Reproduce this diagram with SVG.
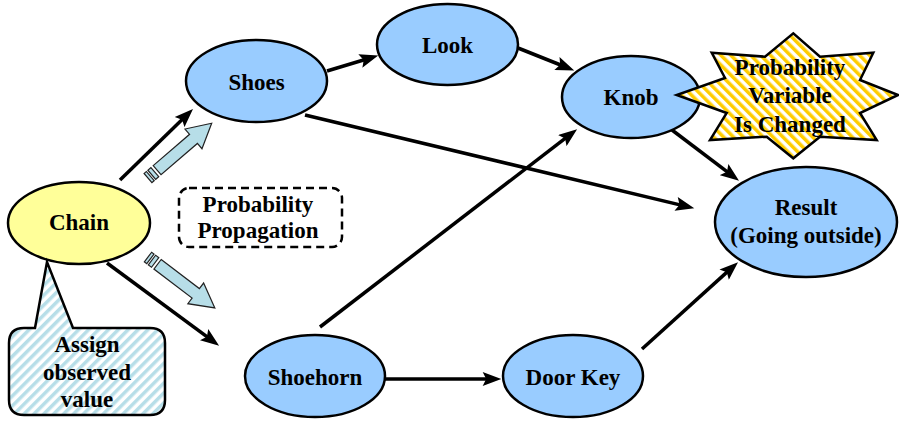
<svg xmlns="http://www.w3.org/2000/svg" width="899" height="421" viewBox="0 0 899 421">
<style>
.node{fill:#99CCFF;stroke:#000;stroke-width:2.5}
.chain{fill:#FFFF99;stroke:#000;stroke-width:2.5}
text{font-family:'Liberation Serif','DejaVu Serif',serif;font-weight:bold;font-size:23px;fill:#000;text-anchor:middle}
.conn line{stroke:#000;stroke-width:3.5;marker-end:url(#ah)}
.blk{fill:#B7DEE8;stroke:#222;stroke-width:1.2}
</style>
<defs>
<marker id="ah" markerUnits="userSpaceOnUse" markerWidth="20" markerHeight="14" viewBox="0 0 16 12" refX="8" refY="6" orient="auto">
<path d="M0,0 L16,6 L0,12 L3,6 Z" fill="#000"/>
</marker>
<pattern id="ystripe" patternUnits="userSpaceOnUse" width="7" height="7" patternTransform="rotate(-45)">
<rect width="7" height="7" fill="#fff"/>
<rect width="3.5" height="7" fill="#FFCC00"/>
</pattern>
<pattern id="cstripe" patternUnits="userSpaceOnUse" width="7" height="7" patternTransform="rotate(45)">
<rect width="7" height="7" fill="#fff"/>
<rect width="3.5" height="7" fill="#B7DEE8"/>
</pattern>
</defs>
<rect width="899" height="421" fill="#fff"/>
<g id="connectors" class="conn">
<line x1="120" y1="180" x2="186.3" y2="115.6"/>
<line x1="107" y1="263" x2="211.6" y2="340.2"/>
<line x1="327" y1="71" x2="369.3" y2="58.3"/>
<line x1="518" y1="48" x2="565.6" y2="67"/>
<line x1="305" y1="115" x2="685.2" y2="206.1"/>
<line x1="672" y1="130" x2="731.6" y2="175.2"/>
<line x1="320" y1="327" x2="569.7" y2="134.9"/>
<line x1="385" y1="379" x2="492" y2="379"/>
<line x1="642" y1="349" x2="731.1" y2="268.4"/>
</g>
<g id="prop-arrow-up" transform="translate(148,178) rotate(-40.7)">
<rect class="blk" x="0" y="-6" width="3" height="12"/>
<rect class="blk" x="5" y="-6" width="4" height="12"/>
<polygon class="blk" points="12,-6 60,-6 60,-13 84,0 60,13 60,6 12,6"/>
</g>
<g id="prop-arrow-down" transform="translate(148,257) rotate(37.3)">
<rect class="blk" x="0" y="-6" width="3" height="12"/>
<rect class="blk" x="5" y="-6" width="4" height="12"/>
<polygon class="blk" points="12,-6 60,-6 60,-13 84,0 60,13 60,6 12,6"/>
</g>
<g id="chain">
<ellipse class="chain" cx="79" cy="223" rx="71" ry="41"/>
<text x="79" y="230">Chain</text>
</g>
<g id="shoes">
<ellipse class="node" cx="256.5" cy="81" rx="70.5" ry="41"/>
<text x="256.5" y="90">Shoes</text>
</g>
<g id="look">
<ellipse class="node" cx="447.5" cy="44.5" rx="70.5" ry="40.5"/>
<text x="447.5" y="53">Look</text>
</g>
<g id="knob">
<ellipse class="node" cx="631" cy="97" rx="69" ry="41"/>
<text x="631" y="105">Knob</text>
</g>
<g id="shoehorn">
<ellipse class="node" cx="315" cy="376" rx="70" ry="41"/>
<text x="315" y="385">Shoehorn</text>
</g>
<g id="doorkey">
<ellipse class="node" cx="573" cy="376" rx="70" ry="41"/>
<text x="573" y="385">Door Key</text>
</g>
<g id="result">
<ellipse class="node" cx="806" cy="222" rx="91" ry="55"/>
<text x="806" y="215">Result</text>
<text x="806" y="243">(Going outside)</text>
</g>
<g id="star">
<polygon points="711.7,52.7 765,56.7 793.3,33.3 820,56.7 873.3,52.7 860,80 898,95 860,113 876.7,140 820,136.7 793.3,158.3 766.7,136.7 710,140 726.7,113 676.7,95 725,78" fill="url(#ystripe)" stroke="#000" stroke-width="2.5" stroke-linejoin="miter"/>
<text x="790" y="75">Probability</text>
<text x="790" y="103">Variable</text>
<text x="790" y="132">Is Changed</text>
</g>
<g id="propagation">
<rect x="179" y="188" width="163" height="59" rx="10" fill="#fff" stroke="#000" stroke-width="2.5" stroke-dasharray="8,5"/>
<text x="258" y="212">Probability</text>
<text x="258" y="238">Propagation</text>
</g>
<g id="assign">
<path d="M24,328 L35,328 L47,262 L73,328 L150,328 Q165,328 165,343 L165,400 Q165,415 150,415 L24,415 Q9,415 9,400 L9,343 Q9,328 24,328 Z" fill="url(#cstripe)" stroke="#000" stroke-width="2.5"/>
<text x="87" y="352">Assign</text>
<text x="87" y="380">observed</text>
<text x="87" y="407">value</text>
</g>
</svg>
